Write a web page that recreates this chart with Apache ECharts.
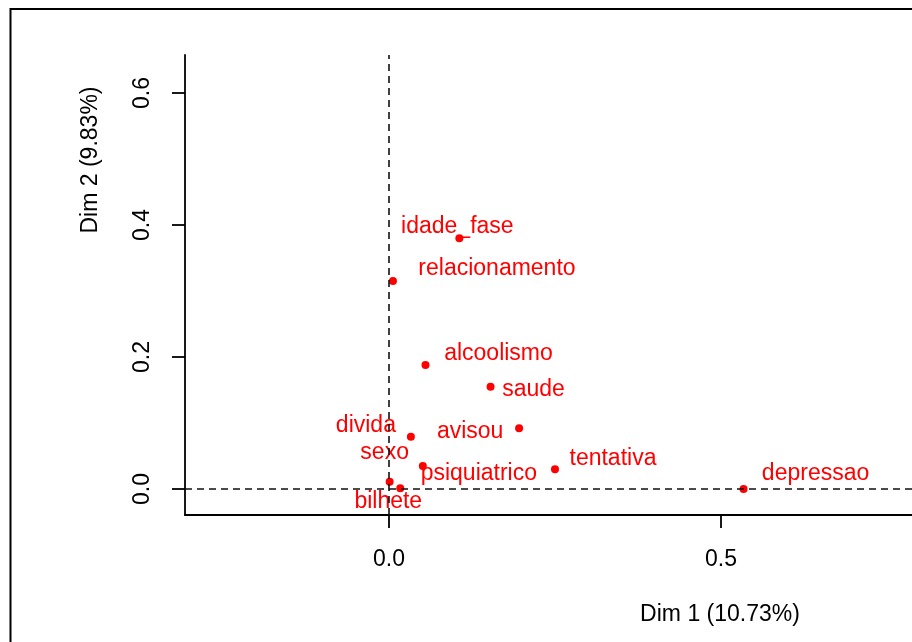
<!DOCTYPE html>
<html><head><meta charset="utf-8">
<script src="https://cdn.jsdelivr.net/npm/echarts@6/dist/echarts.min.js"></script>
<style>html,body{margin:0;padding:0;background:#fff}#c{width:912px;height:642px}</style>
</head><body><div id="c"></div><script>
// ---- data ----
const categories = ['idade_fase','relacionamento','alcoolismo','saude','avisou','divida','psiquiatrico','tentativa','sexo','bilhete','depressao'];
const dim1 = [0.106, 0.006, 0.055, 0.153, 0.196, 0.033, 0.051, 0.250, 0.001, 0.017, 0.534];
const dim2 = [0.380, 0.315, 0.188, 0.155, 0.092, 0.079, 0.035, 0.030, 0.011, 0.001, 0.000];
const xTicks = [0, 0.5];
const yTicks = [0, 0.2, 0.4, 0.6];
const xTitle = 'Dim 1 (10.73%)';
const yTitle = 'Dim 2 (9.83%)';

// ---- label placement (style, pixels relative to point) ----
const labelOffsets = [[-2,-13],[104,-13],[73,-12],[43,2],[-49,2],[-45,-12],[56,7],[58,-12],[-5,-30],[-12,12],[72,-16]];

const FONT = 'Liberation Sans, Arial, sans-serif';
const SYM = 8;
const chart = echarts.init(document.getElementById('c'));
const pts = categories.map((n, i) => ({
  name: n,
  value: [dim1[i], dim2[i]],
  label: {position: [labelOffsets[i][0] + SYM / 2, labelOffsets[i][1] + SYM / 2 + 1]}
}));
chart.setOption({
  animation: false,
  backgroundColor: '#fff',
  grid: {left: 185, top: 55, right: 0, bottom: 127, containLabel: false},
  xAxis: {
    type: 'value', min: -0.3072, max: 0.7877,
    splitLine: {show: false},
    axisLine: {show: true, onZero: false, lineStyle: {color: '#000', width: 1.8}},
    axisTick: {show: true, customValues: xTicks, length: 13, lineStyle: {color: '#000', width: 1.8}},
    axisLabel: {customValues: xTicks, formatter: v => v.toFixed(1), margin: 33, fontSize: 23, fontFamily: FONT, color: '#000'}
  },
  yAxis: {
    type: 'value', min: -0.0394, max: 0.6576,
    splitLine: {show: false},
    axisLine: {show: true, onZero: false, lineStyle: {color: '#000', width: 1.8}},
    axisTick: {show: true, customValues: yTicks, length: 13, lineStyle: {color: '#000', width: 1.8}},
    axisLabel: {customValues: yTicks, formatter: v => v.toFixed(1), rotate: 90, margin: 31, fontSize: 23, fontFamily: FONT, color: '#000'}
  },
  graphic: [
    {type: 'polyline', shape: {points: [[10.5, 650], [10.5, 9], [920, 9]]}, style: {stroke: '#000', lineWidth: 2, fill: null}, silent: true},
    {type: 'text', x: 720, y: 615, style: {text: xTitle, font: '23px ' + FONT, fill: '#000', textAlign: 'center', textVerticalAlign: 'middle'}},
    {type: 'text', x: 91, y: 160, rotation: Math.PI / 2, style: {text: yTitle, font: '23px ' + FONT, fill: '#000', textAlign: 'center', textVerticalAlign: 'middle'}}
  ],
  series: [{
    type: 'scatter',
    data: pts,
    symbol: 'circle',
    symbolSize: SYM,
    itemStyle: {color: '#FF0000', opacity: 1},
    label: {
      show: true, formatter: p => p.name, opacity: 1,
      color: '#FF0000', fontSize: 23, fontFamily: FONT,
      align: 'center', verticalAlign: 'middle', textBorderWidth: 0
    },
    labelLayout: {hideOverlap: false},
    markLine: {
      silent: true, symbol: ['none', 'none'], label: {show: false},
      lineStyle: {color: '#111', width: 1.6, type: [7, 5], opacity: 1},
      data: [{xAxis: 0}, {yAxis: 0}]
    },
    z: 3
  }]
});
</script></body></html>
